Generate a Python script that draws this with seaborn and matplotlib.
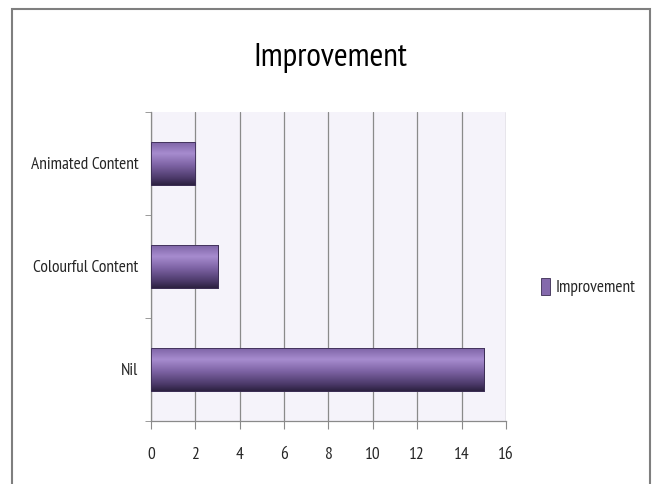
import numpy as np
import pandas as pd
import matplotlib
matplotlib.use("Agg")
import matplotlib.pyplot as plt
from matplotlib.colors import LinearSegmentedColormap
from matplotlib.patches import Rectangle, Patch
import seaborn as sns

categories = ["Animated Content", "Colourful Content", "Nil"]
improvement = [2, 3, 15]
x_ticks = [0, 2, 4, 6, 8, 10, 12, 14, 16]
series_name = "Improvement"

sns.set_style("white")
plt.rcParams["font.family"] = ["PT Sans Narrow", "DejaVu Sans"]

df = pd.DataFrame({"category": categories, "value": improvement})

fig = plt.figure(figsize=(6.53, 4.84), dpi=100)
ax = fig.add_axes([0.2312, 0.1302, 0.5437, 0.6384])
ax.set_facecolor("#f5f3fa")

sns.barplot(data=df, x="value", y="category", orient="h", width=0.42,
            color="#7b62a3", edgecolor="#3a2c52", linewidth=0.6, ax=ax,
            zorder=3)

# vertical shading on each bar: light band near the top, dark towards the base
shade = LinearSegmentedColormap.from_list(
    "bar_shade",
    [(0.0, "#7a60a2"), (0.28, "#a78ccf"), (0.55, "#7d63a4"),
     (0.85, "#4a3868"), (1.0, "#2c2140")])
grad = np.linspace(0, 1, 256).reshape(-1, 1)
for bar in ax.patches:
    x0, y0 = bar.get_x(), bar.get_y()
    w, h = bar.get_width(), bar.get_height()
    im = ax.imshow(grad, cmap=shade, aspect="auto",
                   extent=[x0, x0 + w, y0 + h, y0], zorder=4,
                   interpolation="bilinear")
    im.set_clip_path(bar)
    ax.add_patch(Rectangle((x0, y0), w, h, fill=False,
                           edgecolor="#3a2c52", linewidth=0.6, zorder=5))

ax.set_xlim(0, 16)
ax.set_ylim(2.5, -0.5)
ax.set_xticks(x_ticks)
ax.set_xticklabels([str(t) for t in x_ticks], fontsize=12.5)
ax.set_yticks(range(len(categories)))
ax.set_yticklabels(categories, fontsize=12.5)
ax.set_xlabel("")
ax.set_ylabel("")

ax.grid(axis="x", color="#8a8a8a", linewidth=0.9, zorder=1)
ax.grid(axis="y", visible=False)
for side in ["top", "right"]:
    ax.spines[side].set_visible(False)
for side in ["left", "bottom"]:
    ax.spines[side].set_color("#8a8a8a")
    ax.spines[side].set_linewidth(0.9)

# tick marks: on x at each gridline, on y between categories
ax.tick_params(axis="x", which="major", length=6, color="#8a8a8a",
               direction="out", bottom=True, pad=13)
ax.tick_params(axis="y", which="major", length=0, pad=9)
ax.set_yticks([-0.5, 0.5, 1.5, 2.5], minor=True)
ax.tick_params(axis="y", which="minor", length=4, color="#8a8a8a",
               direction="out", left=True)

fig.text(0.506, 0.881, "Improvement", ha="center", va="center",
         fontsize=24, color="black")

handles = [Patch(facecolor="#8469ac", edgecolor="#3a2c52", linewidth=0.6,
                 label=series_name)]
fig.legend(handles=handles, loc="center left",
           bbox_to_anchor=(0.804, 0.407), frameon=False, fontsize=12.5,
           handlelength=0.55, handleheight=1.1, handletextpad=0.3)

# chart frame
fig.add_artist(Rectangle((12 / 653, -0.05), (650 - 12) / 653, 1.05 - 9 / 484,
                         transform=fig.transFigure, fill=False,
                         edgecolor="#7f7f7f", linewidth=1.5))

fig.savefig("out.png", dpi=100)
